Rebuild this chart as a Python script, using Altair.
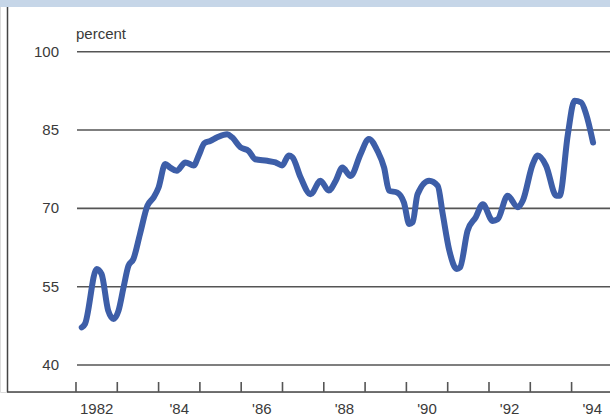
import altair as alt
import pandas as pd

# Series: percent, by decimal year
years = [
    1982.14, 1982.22, 1982.50, 1982.62, 1982.78, 1982.91, 1983.03, 1983.15,
    1983.27, 1983.39, 1983.55, 1983.73, 1983.88, 1984.00, 1984.16, 1984.28,
    1984.44, 1984.65, 1984.85, 1984.97, 1985.11, 1985.25, 1985.42, 1985.66,
    1985.78, 1985.98, 1986.18, 1986.34, 1986.63, 1986.83, 1986.99, 1987.15,
    1987.24, 1987.44, 1987.68, 1987.92, 1988.12, 1988.29, 1988.45, 1988.65,
    1988.89, 1989.09, 1989.30, 1989.46, 1989.58, 1989.78, 1989.94, 1990.07,
    1990.15, 1990.27, 1990.55, 1990.76, 1990.88, 1991.04, 1991.22, 1991.30,
    1991.48, 1991.68, 1991.85, 1992.09, 1992.21, 1992.45, 1992.70, 1992.82,
    1993.06, 1993.18, 1993.38, 1993.63, 1993.71, 1993.91, 1994.07, 1994.23,
    1994.35, 1994.52,
]
values = [
    47.2, 47.9, 58.4, 57.4, 50.4, 48.8, 50.4, 54.8,
    59.0, 60.3, 65.1, 70.5, 72.1, 74.0, 78.5, 77.8,
    77.2, 78.8, 78.2, 80.1, 82.5, 82.9, 83.6, 84.2,
    83.6, 81.7, 81.0, 79.4, 79.1, 78.8, 78.2, 80.1,
    79.8, 75.9, 72.7, 75.3, 73.4, 75.3, 77.8, 76.2,
    80.4, 83.3, 81.0, 77.8, 73.4, 73.0, 71.1, 67.0,
    67.3, 72.7, 75.3, 74.3, 68.9, 61.9, 58.4, 58.7,
    65.7, 68.3, 70.8, 67.6, 67.9, 72.4, 70.2, 71.5,
    78.5, 80.1, 78.2, 72.4, 72.4, 84.2, 90.6, 90.3,
    88.1, 82.6,
]

grid_values = [40, 55, 70, 85, 100]
tick_years = list(range(1982, 1995))
label_positions = [1982.5, 1984.5, 1986.5, 1988.5, 1990.5, 1992.5, 1994.5]
label_texts = ["1982", "'84", "'86", "'88", "'90", "'92", "'94"]

W, H = 610, 392
FONT = "Liberation Sans"
TEXT = "#3a3a3a"
RULE = "#555555"

x_scale = alt.Scale(domain=[1980.16, 1994.93], nice=False, zero=False)
y_scale = alt.Scale(domain=[34.83, 109.9], nice=False, zero=False)

series = pd.DataFrame({"year": years, "value": values})
grid = pd.DataFrame({"value": grid_values})
ticks = pd.DataFrame({"year": tick_years})
year_labels = pd.DataFrame({"year": label_positions, "label": label_texts})
one = pd.DataFrame({"k": [0]})

band = alt.Chart(one).mark_rect(color="#c6d6e8").encode(
    x=alt.value(0), x2=alt.value(W), y=alt.value(0), y2=alt.value(7)
)

frame_left = alt.Chart(one).mark_rule(color="#444444", strokeWidth=1.5).encode(
    x=alt.value(7.5), y=alt.value(7), y2=alt.value(H)
)
frame_bottom = alt.Chart(one).mark_rule(color="#444444", strokeWidth=1.5).encode(
    x=alt.value(7), x2=alt.value(W), y=alt.value(H)
)

gridlines = alt.Chart(grid).mark_rule(color=RULE, strokeWidth=1.6).encode(
    x=alt.value(77), x2=alt.value(W),
    y=alt.Y("value:Q", scale=y_scale, axis=None),
)

y_labels = alt.Chart(grid).mark_text(
    align="right", baseline="middle", font=FONT, fontSize=15, color=TEXT
).encode(
    x=alt.value(59),
    y=alt.Y("value:Q", scale=y_scale, axis=None),
    text=alt.Text("value:Q"),
)

unit_label = alt.Chart(one).mark_text(
    align="left", baseline="alphabetic", font=FONT, fontSize=15, color=TEXT,
    text="percent",
).encode(x=alt.value(76), y=alt.value(39))

# Short upward ticks at the start of each year
tick_marks = alt.Chart(ticks).mark_rule(color=RULE, strokeWidth=1.6).encode(
    x=alt.X("year:Q", scale=x_scale, axis=None),
    y=alt.value(382), y2=alt.value(H),
)

# Year labels centred within each labelled year, below the frame
x_labels = alt.Chart(year_labels).mark_text(
    align="center", baseline="middle", font=FONT, fontSize=15, color=TEXT
).encode(
    x=alt.X("year:Q", scale=x_scale, axis=None),
    y=alt.value(409),
    text="label:N",
)

line = alt.Chart(series).mark_line(
    color="#3d5ea8", strokeWidth=6, strokeJoin="round", strokeCap="round",
    interpolate="monotone",
).encode(
    x=alt.X("year:Q", scale=x_scale, axis=None),
    y=alt.Y("value:Q", scale=y_scale, axis=None),
)

chart = alt.layer(
    band, frame_left, frame_bottom, gridlines, y_labels, unit_label,
    tick_marks, x_labels, line
).properties(
    width=W, height=H,
    autosize=alt.AutoSizeParams(type="none"),
    padding={"left": 0, "top": 0, "right": 0, "bottom": 26},
).configure_view(stroke=None).configure(background="white")

chart.save("out.html", embed_options={"renderer": "svg", "actions": False})
